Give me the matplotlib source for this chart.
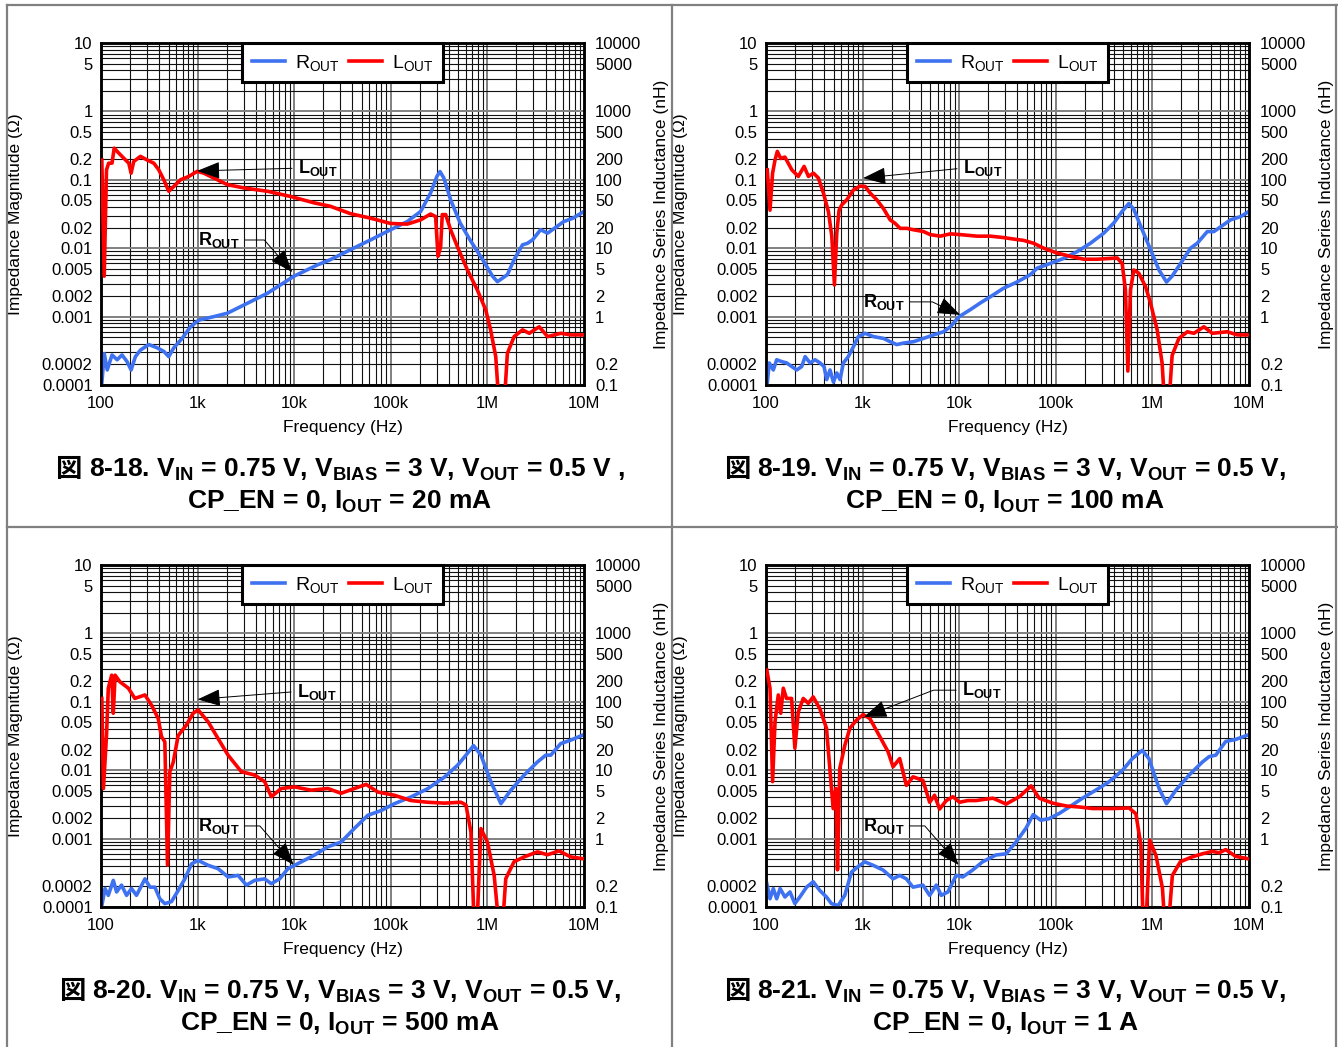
import numpy as np
import matplotlib.pyplot as plt
from matplotlib.lines import Line2D
from matplotlib.ticker import NullLocator, FixedLocator

plt.rcParams['font.family'] = ['Liberation Sans', 'DejaVu Sans']
plt.rcParams['mathtext.fontset'] = 'custom'
plt.rcParams['mathtext.rm'] = 'Liberation Sans'
plt.rcParams['mathtext.it'] = 'Liberation Sans:italic'
plt.rcParams['mathtext.bf'] = 'Liberation Sans:bold'

# =========================
# Data (frequency in Hz, R_OUT in ohm, L_OUT in nH)
# =========================
# 8-18: IOUT = 20 mA
f_r18 = [102, 108, 116, 130, 147, 165, 186, 205, 227, 256, 312, 381, 447, 503, 567, 692, 844, 1030,
         1475, 2030, 3020, 5270, 9970, 17400, 23700, 38200, 61600, 99300, 148000, 204000, 258000,
         300000, 323000, 354000, 416000, 522000, 661000, 893000, 1130000, 1270000, 1610000, 1890000,
         2310000, 2600000, 2930000, 3550000, 4200000, 5300000, 6160000, 7700000, 10000000]
rout18 = [1.06e-4, 2.88e-4, 1.66e-4, 2.75e-4, 2.34e-4, 2.75e-4, 2.2e-4, 1.66e-4, 2.6e-4, 3.24e-4,
          3.9e-4, 3.5e-4, 3.1e-4, 2.6e-4, 3.5e-4, 4.8e-4, 7.1e-4, 8.9e-4, 1.0e-3, 1.12e-3,
          1.48e-3, 2.19e-3, 3.9e-3, 5.7e-3, 6.8e-3, 9.5e-3, 0.0132, 0.0186, 0.0245, 0.0345,
          0.064, 0.112, 0.132, 0.106, 0.051, 0.0234, 0.0132, 6.8e-3, 3.9e-3, 3.24e-3,
          4.1e-3, 6.8e-3, 0.0112, 0.0118, 0.0132, 0.0186, 0.0166, 0.021, 0.0245, 0.0275, 0.0345]
f_l18 = [102, 108, 114, 120, 130, 137, 153, 172, 194, 205, 218, 256, 300, 352, 396, 447, 503, 567,
         665, 811, 990, 1160, 1475, 2030, 3020, 5270, 9200, 16100, 23700, 38200, 61600, 99300,
         148000, 204000, 258000, 291000, 308000, 328000, 341000, 370000, 416000, 488000, 621000,
         787000, 961000, 1080000, 1220000, 1320000, 1490000, 1610000, 1890000, 2310000, 2710000,
         3440000, 4200000, 5770000, 7330000, 10000000]
lout18 = [195, 3.9, 140, 175, 175, 290, 245, 207, 175, 125, 185, 220, 195, 175, 140, 100, 68, 80,
          100, 112, 133, 125, 106, 85, 76, 68, 57, 46, 41, 32, 27.5, 23, 22.5, 26, 31.6, 29, 7.6,
          10.5, 31, 31, 18.6, 10.6, 4.8, 2.45, 1.25, 0.64, 0.26, 0.05, 0.05, 0.29, 0.51, 0.64,
          0.57, 0.71, 0.51, 0.57, 0.54, 0.54]

# 8-19: IOUT = 100 mA
f_r19 = [103, 108, 119, 129, 145, 164, 185, 208, 234, 254, 286, 322, 363, 399, 425, 460, 499, 540,
         584, 632, 711, 801, 903, 1061, 1294, 1645, 1928, 2260, 2649, 3366, 4274, 5420, 6880, 8080,
         10000, 13000, 16500, 21000, 28800, 39600, 54500, 64000, 88000, 121000, 166000, 228000,
         314000, 399000, 486000, 570000, 642000, 784000, 957000, 1170000, 1400000, 1600000,
         1960000, 2480000, 2910000, 3700000, 4330000, 5500000, 6450000, 8200000, 10000000]
rout19 = [1.06e-4, 2.1e-4, 1.66e-4, 2.34e-4, 2.2e-4, 2.1e-4, 1.86e-4, 1.66e-4, 1.86e-4, 2.6e-4,
          2.1e-4, 2.34e-4, 2.1e-4, 1.86e-4, 1.2e-4, 1.66e-4, 1.1e-4, 1.5e-4, 1.2e-4, 2.1e-4,
          2.6e-4, 3.6e-4, 5.1e-4, 5.7e-4, 5.1e-4, 4.8e-4, 4.3e-4, 3.9e-4, 4.1e-4, 4.3e-4,
          4.8e-4, 5.4e-4, 6.0e-4, 7.1e-4, 1.0e-3, 1.26e-3, 1.58e-3, 1.95e-3, 2.6e-3, 3.2e-3,
          4.1e-3, 5.1e-3, 6.0e-3, 7.1e-3, 8.9e-3, 0.0118, 0.0166, 0.0234, 0.0345, 0.045,
          0.037, 0.0186, 9.5e-3, 4.8e-3, 3.2e-3, 3.9e-3, 6.0e-3, 0.01, 0.0118, 0.0175,
          0.0175, 0.0222, 0.026, 0.029, 0.0345]
f_l19 = [103, 110, 117, 124, 131, 142, 157, 185, 216, 248, 275, 310, 349, 393, 443, 480, 511, 540,
         571, 609, 686, 804, 942, 1062, 1197, 1403, 1644, 1928, 2173, 2448, 2870, 3366, 4274, 5012,
         6366, 8080, 10250, 15270, 21000, 28800, 36600, 46500, 59000, 75000, 103000, 141600,
         195000, 268000, 368000, 432000, 486000, 526000, 557000, 593000, 642000, 724000, 849000,
         957000, 1120000, 1260000, 1340000, 1480000, 1600000, 1880000, 2300000, 2690000, 3410000,
         4170000, 5960000, 7560000, 10000000]
lout19 = [140, 36, 125, 195, 260, 205, 215, 140, 112, 157, 112, 125, 106, 64, 34, 15, 2.9, 16.6,
          36, 43, 51, 71, 81, 80, 64, 51, 38, 26, 23, 19.5, 19.5, 18.6, 17.5, 15.8, 15.0, 16.2,
          15.8, 15.0, 15.0, 14.3, 13.6, 13.0, 11.8, 10, 8.5, 7.6, 6.9, 6.9, 7.1, 7.2, 6.0, 2.45,
          0.16, 2.45, 4.8, 4.3, 2.75, 1.57, 0.64, 0.21, 0.05, 0.05, 0.27, 0.48, 0.60, 0.57, 0.71,
          0.57, 0.60, 0.54, 0.54]

# 8-20: IOUT = 500 mA
f_r20 = [102, 110, 119, 134, 145, 163, 184, 207, 233, 285, 321, 361, 406, 458, 537, 629, 738, 865,
         1013, 1285, 1630, 2067, 2624, 3199, 3898, 4943, 5795, 7063, 8610, 11840, 16260, 22300,
         30600, 42000, 57800, 79300, 109000, 162000, 241000, 358000, 491000, 600000, 719000,
         857000, 1087000, 1380000, 1750000, 2400000, 3300000, 4020000, 4530000, 5740000, 7280000,
         9600000]
rout20 = [1.05e-4, 1.86e-4, 1.48e-4, 2.45e-4, 1.66e-4, 2.09e-4, 1.48e-4, 1.86e-4, 1.48e-4, 2.58e-4,
          1.95e-4, 1.95e-4, 1.32e-4, 1.12e-4, 1.2e-4, 1.74e-4, 2.58e-4, 4.27e-4, 4.8e-4, 4.07e-4,
          3.63e-4, 2.75e-4, 2.9e-4, 2.09e-4, 2.45e-4, 2.58e-4, 2.19e-4, 2.58e-4, 3.63e-4, 4.57e-4,
          5.75e-4, 7.6e-4, 8.9e-4, 1.41e-3, 2.19e-3, 2.57e-3, 3.24e-3, 4.07e-3, 5.37e-3, 7.9e-3,
          0.0118, 0.0166, 0.0229, 0.0166, 6.76e-3, 3.24e-3, 5.1e-3, 8.5e-3, 0.0132, 0.0166,
          0.0166, 0.0245, 0.0275, 0.0324]
f_l20 = [102, 106, 114, 119, 129, 134, 140, 157, 192, 224, 285, 334, 391, 423, 458, 488, 516, 559,
         629, 767, 899, 1013, 1285, 1630, 2067, 2837, 3898, 4943, 5795, 7349, 10090, 15000, 22300,
         30600, 42000, 55500, 73300, 109000, 162000, 241000, 358000, 532000, 600000, 675000,
         731000, 779000, 857000, 1000000, 1175000, 1320000, 1430000, 1550000, 1890000, 2400000,
         3300000, 4180000, 5520000, 7280000, 9600000]
lout20 = [112, 5.4, 32, 158, 245, 68, 245, 196, 158, 112, 126, 89, 57, 31, 26, 0.41, 9.5, 13, 32,
          46, 68, 76, 51, 29, 16.6, 9.5, 8.5, 6.8, 4.1, 5.4, 5.7, 5.1, 5.4, 4.6, 5.4, 6.2, 4.8,
          4.3, 3.6, 3.4, 3.3, 3.4, 3.1, 1.25, 0.05, 0.05, 1.4, 0.89, 0.29, 0.05, 0.05, 0.26,
          0.46, 0.54, 0.64, 0.58, 0.66, 0.54, 0.51]

# 8-21: IOUT = 1 A
f_r21 = [102, 110, 119, 129, 140, 157, 177, 199, 224, 263, 308, 361, 423, 476, 558, 654, 767, 899,
         1054, 1285, 1630, 2067, 2421, 2837, 3324, 4211, 4943, 5795, 6520, 7640, 9300, 10890,
         13780, 17430, 23900, 30600, 38700, 49000, 58300, 69600, 84800, 109000, 138000, 189000,
         259000, 355000, 491000, 620000, 786000, 920000, 1175000, 1400000, 1750000, 2400000,
         3300000, 3870000, 4530000, 5740000, 7280000, 9600000]
rout21 = [2.19e-4, 1.32e-4, 1.86e-4, 1.32e-4, 1.86e-4, 1.4e-4, 1.66e-4, 1.12e-4, 1.4e-4, 1.95e-4,
          2.34e-4, 1.74e-4, 1.4e-4, 1.12e-4, 1.05e-4, 1.48e-4, 3.24e-4, 3.9e-4, 4.57e-4, 4.07e-4,
          3.47e-4, 2.58e-4, 2.9e-4, 2.58e-4, 1.95e-4, 2.09e-4, 1.48e-4, 2.09e-4, 1.48e-4, 1.66e-4,
          2.9e-4, 2.75e-4, 3.47e-4, 4.57e-4, 5.75e-4, 6.0e-4, 8.9e-4, 1.41e-3, 2.24e-3, 1.86e-3,
          1.95e-3, 2.34e-3, 2.9e-3, 3.9e-3, 5.1e-3, 6.76e-3, 0.01, 0.0148, 0.0195, 0.0148,
          5.37e-3, 3.24e-3, 5.1e-3, 8.5e-3, 0.0132, 0.0158, 0.0166, 0.0263, 0.0282, 0.0324]
f_l21 = [102, 110, 117, 124, 134, 142, 151, 163, 184, 199, 216, 243, 274, 308, 361, 423, 458, 496,
         529, 550, 580, 654, 738, 865, 1013, 1188, 1507, 1835, 2067, 2421, 2837, 3324, 4211, 4943,
         5560, 6260, 7349, 8610, 10090, 12260, 14960, 22300, 30600, 42000, 55500, 67300, 92800,
         128000, 174000, 241000, 385000, 575000, 675000, 760000, 803000, 857000, 935000, 1087000,
         1270000, 1350000, 1460000, 1610000, 1950000, 2570000, 3300000, 4180000, 4900000,
         5740000, 7280000, 9600000]
lout21 = [290, 158, 6.8, 51, 126, 68, 158, 112, 112, 21, 71, 112, 95, 118, 79, 41, 10.5, 2.75, 5.4,
          0.35, 10.5, 23, 41, 54, 65, 57, 31, 18.6, 11.2, 14.8, 6.0, 8, 7.1, 3.4, 4.3, 2.7, 3.6,
          4.1, 3.4, 3.6, 3.6, 3.9, 3.2, 4.1, 5.9, 3.9, 3.3, 3.0, 2.9, 2.75, 2.75, 2.8, 2.3, 0.8,
          0.05, 0.05, 0.95, 0.57, 0.19, 0.05, 0.05, 0.29, 0.46, 0.54, 0.60, 0.65, 0.62, 0.69,
          0.55, 0.51]

# tick labels
freq_ticks = [1e2, 1e3, 1e4, 1e5, 1e6, 1e7]
freq_labels = ['100', '1k', '10k', '100k', '1M', '10M']
ohm_ticks = [10, 5, 1, 0.5, 0.2, 0.1, 0.05, 0.02, 0.01, 0.005, 0.002, 0.001, 0.0002, 0.0001]
ohm_labels = ['10', '5', '1', '0.5', '0.2', '0.1', '0.05', '0.02', '0.01', '0.005', '0.002',
              '0.001', '0.0002', '0.0001']
nh_ticks = [10000, 5000, 1000, 500, 200, 100, 50, 20, 10, 5, 2, 1, 0.2, 0.1]
nh_labels = ['10000', '5000', '1000', '500', '200', '100', '50', '20', '10', '5', '2', '1',
             '0.2', '0.1']

BLUE = '#3f72f0'
RED = '#ff0000'
W, H = 1338, 1047

fig = plt.figure(figsize=(W / 100, H / 100), dpi=100)


def panel(px, py, f_r, r, f_l, l, ann):
    # px, py: pixel position of axes top-left
    ax = fig.add_axes([px / W, 1 - (py + 342) / H, 483 / W, 342 / H])
    ax2 = ax.twinx()
    ax.set_xscale('log')
    ax.set_yscale('log')
    ax2.set_yscale('log')
    ax.set_xlim(1e2, 1e7)
    ax.set_ylim(1e-4, 10)
    ax2.set_ylim(0.1, 1e4)

    # grid: decades grey, the rest black
    for d in range(2, 7):
        for m in range(1, 10):
            ax.axvline(m * 10 ** d, color='#808080' if m == 1 else '#111111',
                       lw=1.4 if m == 1 else 0.8, zorder=0.5)
    for d in range(-4, 1):
        for m in range(1, 10):
            ax.axhline(m * 10.0 ** d, color='#808080' if m == 1 else '#111111',
                       lw=1.4 if m == 1 else 0.8, zorder=0.5)

    hr, = ax.plot(f_r, r, color=BLUE, lw=2.6, zorder=3)
    hl, = ax2.plot(f_l, l, color=RED, lw=2.6, zorder=3)

    for a in (ax, ax2):
        a.xaxis.set_minor_locator(NullLocator())
        a.yaxis.set_minor_locator(NullLocator())
        for s in a.spines.values():
            s.set_linewidth(1.8)
    ax.xaxis.set_major_locator(FixedLocator(freq_ticks))
    ax.set_xticklabels(freq_labels)
    ax.yaxis.set_major_locator(FixedLocator(ohm_ticks))
    ax.set_yticklabels(ohm_labels)
    ax2.yaxis.set_major_locator(FixedLocator(nh_ticks))
    ax2.set_yticklabels(nh_labels)
    ax.tick_params(axis='x', length=0, pad=8, labelsize=12)
    ax.tick_params(axis='y', length=0, pad=6, labelsize=12)
    ax2.tick_params(axis='y', length=0, pad=8, labelsize=12)

    ax.text(0.5, -0.123, 'Frequency (Hz)', transform=ax.transAxes, ha='center', va='center',
            fontsize=12.5)
    ax.text(-0.178, 0.5, 'Impedance Magnitude (Ω)', transform=ax.transAxes, rotation=90,
            ha='center', va='center', fontsize=12.5)
    ax.text(1.16, 0.5, 'Impedance Series Inductance (nH)', transform=ax.transAxes, rotation=90,
            ha='center', va='center', fontsize=12.5)

    leg = ax2.legend([hr, hl], [r'R$_{\mathrm{OUT}}$', r'L$_{\mathrm{OUT}}$'], loc='upper center',
                     bbox_to_anchor=(0.5, 1.0), ncol=2, fancybox=False, framealpha=1,
                     edgecolor='black', borderaxespad=0, fontsize=14, handlelength=1.7,
                     handletextpad=0.5, columnspacing=0.5, borderpad=0.5)
    leg.get_frame().set_linewidth(2.2)
    leg.set_zorder(10)

    arrow = dict(arrowstyle='-|>,head_length=1.2,head_width=0.45', color='black', lw=0.7,
                 mutation_scale=12, shrinkA=2, shrinkB=0)
    (ltx, lty), (lpx, lpy), la, (rtx, rty), (rpx, rpy), ra = ann
    ax2.annotate(r'L$_{\mathbf{OUT}}$', xy=(lpx, lpy), xycoords='axes fraction',
                 xytext=(ltx, lty), textcoords='axes fraction', ha='left', va='center',
                 fontsize=13, fontweight='bold',
                 arrowprops=dict(arrow, relpos=(0, 0.5),
                                 connectionstyle='angle,angleA=0,angleB=%g,rad=0' % la
                                 if la else 'arc3'))
    ax2.annotate(r'R$_{\mathbf{OUT}}$', xy=(rpx, rpy), xycoords='axes fraction',
                 xytext=(rtx, rty), textcoords='axes fraction', ha='left', va='center',
                 fontsize=13, fontweight='bold',
                 arrowprops=dict(arrow, relpos=(1, 0.5),
                                 connectionstyle='angle,angleA=0,angleB=%g,rad=0' % ra))


def caption(cx, y1, y2, line1, line2):
    fs = 19
    t1 = fig.text(0, 1 - y1 / H, line1, fontsize=fs, fontweight='bold', ha='left',
                  va='baseline')
    k = fig.text(0, 1 - y1 / H, '図', fontsize=fs, fontweight='bold', family='Noto Sans CJK JP',
                 ha='left', va='baseline')
    fig.text(cx / W, 1 - y2 / H, line2, fontsize=fs, fontweight='bold', ha='center',
             va='baseline')
    rend = fig.canvas.get_renderer()
    w1 = t1.get_window_extent(rend).width
    wk = k.get_window_extent(rend).width
    gap = 0.28 * fs * 100 / 72
    x0 = cx - (wk + gap + w1) / 2
    k.set_x(x0 / W)
    t1.set_x((x0 + wk + gap) / W)


sub = r'V$_{\mathbf{IN}}$ = 0.75 V, V$_{\mathbf{BIAS}}$ = 3 V, V$_{\mathbf{OUT}}$ = 0.5 V'

panel(101, 43, f_r18, rout18, f_l18, lout18,
      [(0.407, 0.634), (0.199, 0.626), 0, (0.201, 0.424), (0.396, 0.330), -49])
panel(766, 43, f_r19, rout19, f_l19, lout19,
      [(0.407, 0.634), (0.201, 0.605), 0, (0.201, 0.243), (0.402, 0.205), -25])
panel(101, 565, f_r20, rout20, f_l20, lout20,
      [(0.405, 0.630), (0.200, 0.607), 0, (0.200, 0.237), (0.399, 0.123), -49])
panel(766, 565, f_r21, rout21, f_l21, lout21,
      [(0.405, 0.634), (0.203, 0.556), 21, (0.200, 0.237), (0.399, 0.123), -49])

caption(340, 477, 509, '8-18. ' + sub + ' ,', r'CP_EN = 0, I$_{\mathbf{OUT}}$ = 20 mA')
caption(1005, 477, 509, '8-19. ' + sub + ',', r'CP_EN = 0, I$_{\mathbf{OUT}}$ = 100 mA')
caption(340, 999, 1031, '8-20. ' + sub + ',', r'CP_EN = 0, I$_{\mathbf{OUT}}$ = 500 mA')
caption(1005, 999, 1031, '8-21. ' + sub + ',', r'CP_EN = 0, I$_{\mathbf{OUT}}$ = 1 A')

# panel borders
gray = '#808080'
for xs, ys in [((7, 1338), (5, 5)), ((7, 7), (5, 1047)), ((672, 672), (5, 1047)),
               ((7, 1338), (527, 527)), ((1336, 1336), (5, 1047))]:
    fig.add_artist(Line2D([x / W for x in xs], [1 - y / H for y in ys], color=gray, lw=1.6))

fig.savefig('out.png', dpi=100)
